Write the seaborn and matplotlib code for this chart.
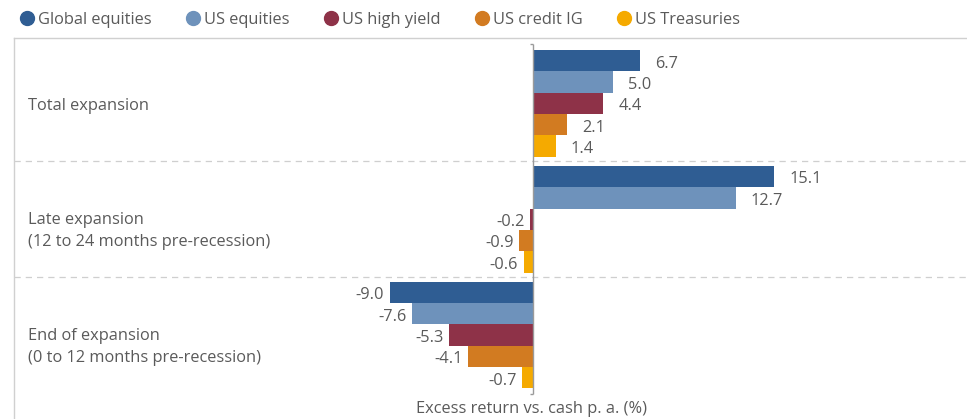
import pandas as pd
import matplotlib.pyplot as plt
import seaborn as sns
from matplotlib.lines import Line2D

# chart data
phases = ["Total expansion",
          "Late expansion\n(12 to 24 months pre-recession)",
          "End of expansion\n(0 to 12 months pre-recession)"]
series = ["Global equities", "US equities", "US high yield", "US credit IG", "US Treasuries"]
global_equities = [6.7, 15.1, -9.0]
us_equities = [5.0, 12.7, -7.6]
us_high_yield = [4.4, -0.2, -5.3]
us_credit_ig = [2.1, -0.9, -4.1]
us_treasuries = [1.4, -0.6, -0.7]
colors = ["#2F5D93", "#6E92BB", "#8E3248", "#D27B21", "#F5AA00"]

values = [global_equities, us_equities, us_high_yield, us_credit_ig, us_treasuries]
rows = []
for name, vals in zip(series, values):
    for ph, v in zip(phases, vals):
        rows.append({"phase": ph, "series": name, "value": v})
df = pd.DataFrame(rows)

sns.set_style("white")
plt.rcParams['font.family'] = ['Open Sans', 'DejaVu Sans']
text_color = "#5a5a5a"
fs = 11.8

fig = plt.figure(figsize=(9.67, 4.19), dpi=100)
ax = fig.add_axes([14 / 967, 0, 953 / 967, 381 / 419])

sns.barplot(data=df, y="phase", x="value", hue="series", order=phases, hue_order=series,
            orient="h", palette=colors, width=0.92, saturation=1, linewidth=0,
            legend=False, ax=ax)

ax.set_xlim(-32.6, 27.23)
ax.set_ylim(2.724, -0.565)

# value labels
for cont in ax.containers:
    for bar in cont:
        x_end = bar.get_x() + bar.get_width() if bar.get_x() >= 0 else bar.get_x()
        yc = bar.get_y() + bar.get_height() / 2
        if x_end >= 0:
            ax.annotate(f"{x_end:.1f}", (x_end, yc), xytext=(11, -2), textcoords="offset points",
                        ha="left", va="center", fontsize=fs, color=text_color)
        else:
            ax.annotate(f"{x_end:.1f}", (x_end, yc), xytext=(-4, -2), textcoords="offset points",
                        ha="right", va="center", fontsize=fs, color=text_color)

# group separators and zero line
for y in [0.5, 1.5]:
    ax.axhline(y, color="#cfcfcf", lw=0.9, ls=(0, (5, 4)), zorder=0)
ax.vlines(0, -0.51, 2.51, color="#9a9a9a", lw=1, zorder=3)
ax.hlines([-0.51, 2.51], -0.2, 0, color="#9a9a9a", lw=1, zorder=3)

# category labels
for i, ph in enumerate(phases):
    shift = 0.025 if "\n" not in ph else 0.1
    ax.text(0.015, i + shift, ph, transform=ax.get_yaxis_transform(), ha="left", va="center",
            fontsize=fs, color=text_color, linespacing=1.5)

ax.set_xticks([])
ax.set_yticks([])
ax.set_xlabel("")
ax.set_ylabel("")
for side in ["right", "bottom"]:
    ax.spines[side].set_visible(False)
for side in ["top", "left"]:
    ax.spines[side].set_color("#d0d0d0")
    ax.spines[side].set_linewidth(1)

fig.text(531 / 967, 1 - 409 / 419, "Excess return vs. cash p. a. (%)", ha="center", va="center",
         fontsize=fs, color=text_color)

handles = [Line2D([], [], marker="o", ls="", markersize=10, color=c) for c in colors]
fig.legend(handles, series, loc="center left", bbox_to_anchor=(0.004, 1 - 20 / 419), ncol=5,
           frameon=False, handletextpad=0.2, columnspacing=2.0, handlelength=1.0,
           fontsize=fs, labelcolor=text_color)

fig.savefig("out.png", dpi=100)
